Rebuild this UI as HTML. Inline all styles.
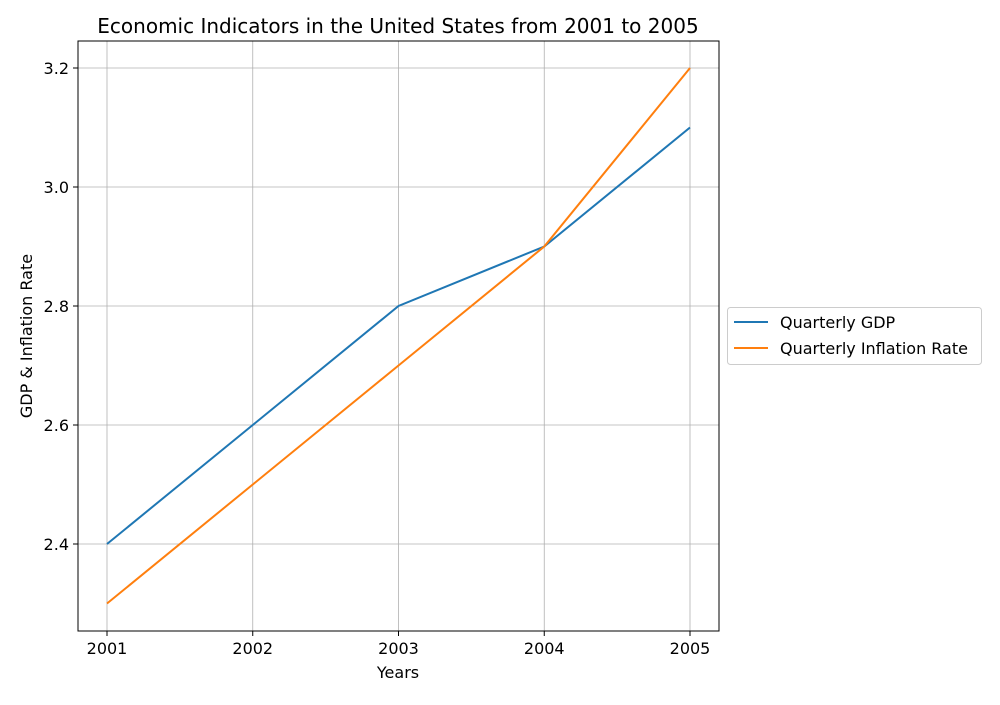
<!DOCTYPE html>
<html><head><meta charset="utf-8"><style>
body{margin:0;background:#fff;}
svg text{font-family:"DejaVu Sans","Liberation Sans",sans-serif;fill:#000;}
</style></head><body>
<svg id="chart" width="1000" height="700" viewBox="0 0 1000 700" xmlns="http://www.w3.org/2000/svg">
<text x="398" y="33" font-size="20" text-anchor="middle">Economic Indicators in the United States from 2001 to 2005</text>
<g id="grid"></g>
<g id="ticks"></g>
<g id="series"></g>
<rect x="78" y="41" width="641" height="590" fill="none" stroke="#000" stroke-width="1"/>
<text x="398" y="678" font-size="16" text-anchor="middle">Years</text>
<text x="32" y="336" font-size="16" text-anchor="middle" transform="rotate(-90 32 336)">GDP &amp; Inflation Rate</text>
<g>
<rect x="727.5" y="307.5" width="254" height="57" rx="3" fill="#fff" stroke="#ccc"/>
<line x1="734" y1="322" x2="768" y2="322" stroke="#1f77b4" stroke-width="2"/>
<text x="780" y="328" font-size="16">Quarterly GDP</text>
<line x1="734" y1="348" x2="768" y2="348" stroke="#ff7f0e" stroke-width="2"/>
<text x="780" y="354" font-size="16">Quarterly Inflation Rate</text>
</g>
</svg>
<script>
const years = [2001, 2002, 2003, 2004, 2005];
const gdp = [2.4, 2.6, 2.8, 2.9, 3.1];
const inflation = [2.3, 2.5, 2.7, 2.9, 3.2];
const yTicks = [2.4, 2.6, 2.8, 3.0, 3.2];
const NS = "http://www.w3.org/2000/svg";
function xs(v){return 107 + (v - 2001) * 145.75;}
function ys(v){return 544 - (v - 2.4) * 595;}
function mk(tag, attrs, parent){const e=document.createElementNS(NS,tag);for(const k in attrs)e.setAttribute(k,attrs[k]);parent.appendChild(e);return e;}
const grid=document.getElementById('grid'), ticks=document.getElementById('ticks'), series=document.getElementById('series');
years.forEach(y=>{
  const x=xs(y);
  const g=mk('line',{x1:x,y1:41,x2:x,y2:631,stroke:'#b0b0b0','stroke-width':0.8},grid);
  
  
  const t=mk('line',{x1:x,y1:631,x2:x,y2:636,stroke:'#000'},ticks);
  
  
  const l=mk('text',{x:x,y:654,'font-size':16,'text-anchor':'middle'},ticks);
  l.textContent=y;
  
  
});
yTicks.forEach(v=>{
  const y=ys(v);
  const g=mk('line',{x1:78,y1:y,x2:719,y2:y,stroke:'#b0b0b0','stroke-width':0.8},grid);
  
  
  const t=mk('line',{x1:73,y1:y,x2:78,y2:y,stroke:'#000'},ticks);
  
  
  const l=mk('text',{x:69,y:y+6,'font-size':16,'text-anchor':'end'},ticks);
  l.textContent=v.toFixed(1);
  
  
});
function drawLine(vals,color,name){
  const p=mk('polyline',{points:vals.map((v,i)=>xs(years[i])+','+ys(v)).join(' '),fill:'none',stroke:color,'stroke-width':2},series);
  
  
}
drawLine(gdp,'#1f77b4','gdp-line');
drawLine(inflation,'#ff7f0e','inflation-line');
</script>
</body></html>
